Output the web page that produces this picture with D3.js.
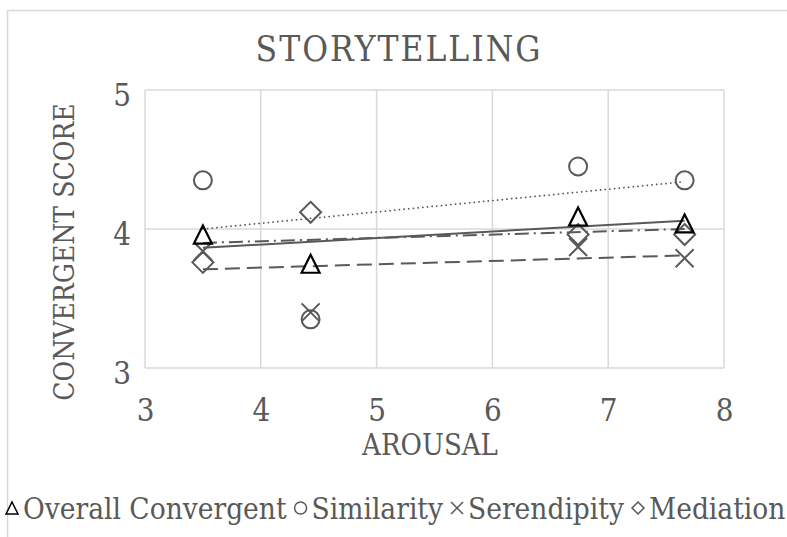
<!DOCTYPE html>
<html>
<head>
<meta charset="utf-8">
<script src="https://cdn.jsdelivr.net/npm/d3@7"></script>
<style>
  body { margin: 0; background: #fff; }
  svg text { font-family: "DejaVu Serif Condensed", "DejaVu Serif", serif; font-stretch: condensed; fill: #595959; }
</style>
</head>
<body>
<svg id="chart" width="787" height="537"></svg>
<script>
// values
var arousal = [3.5, 4.43, 6.74, 7.66];
var overall = [3.96, 3.75, 4.09, 4.04];
var similarity = [4.35, 3.35, 4.45, 4.35];
var serendipity = [3.84, 3.4, 3.87, 3.79];
var mediation = [3.76, 4.12, 3.96, 3.96];

// trendline values at the first and last arousal point
var overallTrend = [3.865, 4.06];
var similarityTrend = [4.0, 4.34];
var serendipityTrend = [3.71, 3.81];
var mediationTrend = [3.9, 4.0];

var xTicks = [3, 4, 5, 6, 7, 8];
var yTicks = [3, 4, 5];

var seriesNames = ["Overall Convergent", "Similarity", "Serendipity", "Mediation"];
var seriesValues = [overall, similarity, serendipity, mediation];
var seriesTrends = [overallTrend, similarityTrend, serendipityTrend, mediationTrend];
var seriesShapes = ["triangle", "circle", "cross", "diamond"];
var seriesDash = [null, "0.1,4.6", "15,7", "14,5,2,5"];

var GRAY = "#595959";

var svg = d3.select("#chart");

// outer chart frame
svg.append("path")
  .attr("d", "M7.5,537 V10.5 H787")
  .attr("fill", "none").attr("stroke", "#d9d9d9").attr("stroke-width", 1.5);

var plot = { left: 145, right: 724, top: 90, bottom: 368 };

var x = d3.scaleLinear().domain([3, 8]).range([plot.left, plot.right]);
var y = d3.scaleLinear().domain([3, 5]).range([plot.bottom, plot.top]);

// grid
var grid = svg.append("g");
grid.selectAll("line.v").data(xTicks).enter().append("line")
  .attr("x1", d => x(d)).attr("x2", d => x(d))
  .attr("y1", plot.top).attr("y2", plot.bottom)
  .attr("stroke", "#d9d9d9").attr("stroke-width", 1.5);
grid.selectAll("line.h").data(yTicks).enter().append("line")
  .attr("y1", d => y(d)).attr("y2", d => y(d))
  .attr("x1", plot.left).attr("x2", plot.right)
  .attr("stroke", "#d9d9d9").attr("stroke-width", 1.5);

// axes (labels only, Excel style)
var xAxis = svg.append("g").attr("transform", "translate(0," + (plot.bottom + 42) + ")")
  .call(d3.axisBottom(x).tickValues(xTicks).tickFormat(d3.format("d")).tickSize(0).tickPadding(0));
var yAxis = svg.append("g").attr("transform", "translate(" + (plot.left - 14) + ",4)")
  .call(d3.axisLeft(y).tickValues(yTicks).tickFormat(d3.format("d")).tickSize(0).tickPadding(0));
[xAxis, yAxis].forEach(function(a){
  a.select(".domain").remove();
  a.selectAll("text").attr("fill", GRAY).attr("dy", "0.36em").style("font-size", "31px");
});

svg.append("text").attr("x", 399).attr("y", 48).attr("text-anchor", "middle")
  .attr("dy", "0.36em").style("font-size", "35px").style("letter-spacing", "2px")
  .text("STORYTELLING");
svg.append("text").attr("x", 430).attr("y", 445).attr("text-anchor", "middle")
  .attr("dy", "0.36em").style("font-size", "29px").text("AROUSAL");
svg.append("text").attr("transform", "translate(64,252) rotate(-90)")
  .attr("text-anchor", "middle").attr("dy", "0.36em").style("font-size", "28px")
  .text("CONVERGENT SCORE");

function shapePath(shape, s) {
  var h = s / 2;
  if (shape === "triangle") return "M0," + (-h) + "L" + h + "," + h + "L" + (-h) + "," + h + "Z";
  if (shape === "circle") return "M" + h + ",0A" + h + "," + h + " 0 1,1 " + (-h) + ",0A" + h + "," + h + " 0 1,1 " + h + ",0Z";
  if (shape === "cross") return "M" + (-h) + "," + (-h) + "L" + h + "," + h + "M" + h + "," + (-h) + "L" + (-h) + "," + h;
  if (shape === "diamond") return "M0," + (-h) + "L" + h + ",0L0," + h + "L" + (-h) + ",0Z";
}

// linear trendlines
var ext = d3.extent(arousal);
var lines = svg.append("g");
seriesTrends.forEach(function(tr, i) {
  lines.append("line")
    .attr("x1", x(ext[0])).attr("y1", y(tr[0]))
    .attr("x2", x(ext[1])).attr("y2", y(tr[1]))
    .attr("stroke", GRAY)
    .attr("stroke-width", i === 1 ? 1.8 : 2)
    .attr("stroke-linecap", i === 1 ? "round" : "butt")
    .attr("stroke-dasharray", seriesDash[i]);
});

// markers (last series first so triangles stay on top)
var marks = svg.append("g");
for (var i = seriesValues.length - 1; i >= 0; i--) {
  marks.selectAll("path.s" + i).data(seriesValues[i]).enter().append("path")
    .attr("class", "s" + i)
    .attr("transform", (d, j) => "translate(" + x(arousal[j]) + "," + y(d) + ")")
    .attr("d", shapePath(seriesShapes[i], i === 3 ? 21 : 18))
    .attr("fill", "none")
    .attr("stroke", i === 0 ? "#000" : GRAY)
    .attr("stroke-width", i === 0 ? 2.2 : 2);
}

// legend
var legend = svg.append("g").attr("transform", "translate(0,508)");
var lx = 12;
seriesNames.forEach(function(name, i) {
  legend.append("path")
    .attr("transform", "translate(" + lx + ",0)")
    .attr("d", shapePath(seriesShapes[i], 12))
    .attr("fill", "none")
    .attr("stroke", i === 0 ? "#000" : GRAY)
    .attr("stroke-width", 1.5);
  var t = legend.append("text").attr("x", lx + 11).attr("dy", "0.36em")
    .style("font-size", "29.5px").text(name);
  lx += 11 + t.node().getComputedTextLength() + 14;
});
</script>
</body>
</html>
